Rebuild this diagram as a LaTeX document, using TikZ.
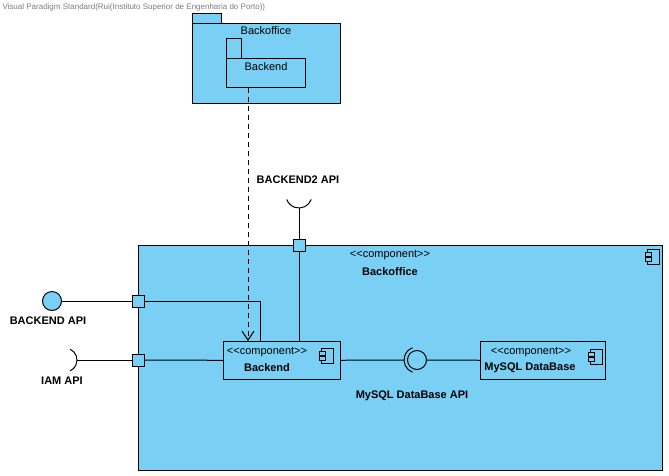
\documentclass[tikz,border=0pt]{standalone}
\usepackage{fontspec}
\setmainfont{Liberation Sans}
\usepackage{tikz}
\usetikzlibrary{arrows.meta,positioning}
\definecolor{vpblue}{RGB}{122,207,245}
\definecolor{vpgray}{RGB}{125,125,125}

% small component symbol, #1 = top right corner
\newcommand{\compicon}[1]{%
  \draw[line width=1pt,fill=vpblue] (#1) ++(-12,0) rectangle ++(12,15);
  \draw[line width=1pt,fill=vpblue] (#1) ++(-14,3) rectangle ++(6,4);
  \draw[line width=1pt,fill=vpblue] (#1) ++(-14,8) rectangle ++(6,4);
}
\newcommand{\stereo}{{<}{<}component{>}{>}}

\begin{document}
\begin{tikzpicture}[x=1pt,y=-1pt,line width=1pt,
  box/.style={draw,fill=vpblue,inner sep=0pt,anchor=north west},
  port/.style={draw,fill=vpblue,inner sep=0pt,minimum size=12pt},
  txt/.style={inner sep=0pt,font=\fontsize{11}{13}\selectfont},
  btxt/.style={inner sep=0pt,font=\fontsize{11}{13}\selectfont\bfseries}]
\useasboundingbox (0,0) rectangle (669,475);

% header
\node[inner sep=0pt,anchor=west,text=vpgray,font=\fontsize{8}{9}\selectfont] (title) at (2,7)
  {Visual Paradigm Standard(Rui(Instituto Superior de Engenharia do Porto))};

% package Backoffice with nested package Backend
\node[box,minimum width=29pt,minimum height=10pt] (pkgtab) at (192,13) {};
\node[box,minimum width=148pt,minimum height=80pt] (pkg) at (192,23) {};
\node[txt] (pkgname) at (266,31) {Backoffice};
\node[box,minimum width=15pt,minimum height=20pt] (subtab) at (226,38) {};
\node[box,minimum width=79pt,minimum height=29pt] (subpkg) at (226,58) {};
\node[txt] (subname) at (266,67) {Backend};

% component Backoffice
\node[box,minimum width=524pt,minimum height=225pt] (backoffice) at (138,245) {};
\node[txt] (boster) at (390,255) {\stereo};
\node[btxt] (boname) at (390,272) {Backoffice};
\compicon{659,249}

% inner components
\node[box,minimum width=117pt,minimum height=38pt] (backend) at (223,341) {};
\node[txt] (beter) at (267,352) {\stereo};
\node[btxt] (bename) at (267,368) {Backend};
\compicon{333,348}

\node[box,minimum width=125pt,minimum height=38pt] (mysql) at (480,341) {};
\node[txt] (myster) at (531,352) {\stereo};
\node[btxt] (myname) at (530,368) {MySQL DataBase};
\compicon{602,349}

% ports
\node[port] (portapi) at (138,301) {};
\node[port] (portiam) at (138,360) {};
\node[port] (porttop) at (299,245) {};

% provided and required interfaces
\node[draw,fill=vpblue,circle,inner sep=0pt,minimum size=19pt] (apiball) at (52,301) {};
\node[btxt] (apilabel) at (48,321) {BACKEND API};
\draw (65,360) ++(-65:12) arc[start angle=-65,end angle=65,radius=12];
\coordinate (iamsock) at (77,360);
\node[btxt] (iamlabel) at (62,381) {IAM API};
\draw (299,195) ++(20:13) arc[start angle=20,end angle=160,radius=13];
\coordinate (topsock) at (299,208);
\node[btxt] (toplabel) at (298,180) {BACKEND2 API};

% ball and socket between Backend and MySQL
\node[draw,circle,inner sep=0pt,minimum size=19pt] (dbball) at (417,360) {};
\draw (417,360) ++(110:13) arc[start angle=110,end angle=250,radius=13];
\coordinate (dbsock) at (404,360);
\node[btxt] (dblabel) at (412,396) {MySQL DataBase API};

% connectors
\draw (apiball) -- (portapi);
\draw (portapi.east) -| ([xshift=37pt]backend.north west);
\draw (iamsock) -- (portiam);
\draw (portiam) -- (backend);
\draw (topsock) -- (porttop);
\draw (porttop.south) -- (porttop.south |- backend.north);
\draw (backend) -- (dbsock);
\draw (dbball) -- (mysql);

% dependency
\draw[dash pattern=on 5pt off 4pt,-{Straight Barb[length=9pt,width=12pt]}]
  ([xshift=22pt]subpkg.south west) -- ([xshift=25pt]backend.north west);
\end{tikzpicture}
\end{document}
